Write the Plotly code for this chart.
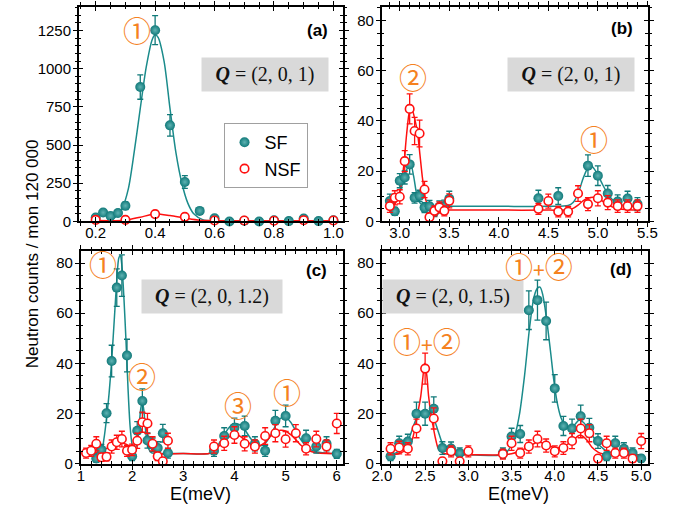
import plotly.graph_objects as go

# ---------------- data ----------------
# panel (a)  Q=(2,0,1)
a_sf_E = [0.2, 0.225, 0.25, 0.275, 0.3, 0.35, 0.4, 0.45, 0.5, 0.55, 0.6, 0.65, 0.7, 0.75, 0.8, 0.85, 0.9, 0.95, 1.0]
a_sf_I = [26, 58, 36, 55, 103, 880, 1252, 629, 258, 69, 21, 0, 4, 0, 8, 2, 19, 2, 8]
a_sf_err = [12, 15, 12, 15, 25, 80, 95, 70, 42, 18, 10, 8, 8, 8, 8, 8, 10, 8, 8]
a_nsf_E = [0.2, 0.3, 0.4, 0.5, 0.6, 0.7, 0.8, 0.9, 1.0]
a_nsf_I = [10, 10, 48, 30, 6, 6, 4, 8, 6]
a_nsf_err = [6, 7, 10, 9, 6, 6, 6, 7, 6]
a_sf_fit_E = [0.2, 0.24, 0.27, 0.29, 0.31, 0.33, 0.35, 0.37, 0.39, 0.40, 0.41, 0.43, 0.45, 0.47, 0.49, 0.51, 0.53, 0.56, 0.60, 0.65, 1.0]
a_sf_fit_I = [0, 5, 33, 90, 215, 460, 740, 1010, 1190, 1222, 1205, 1050, 740, 450, 250, 120, 50, 12, 2, 0, 0]
a_nsf_fit_E = [0.2, 0.3, 0.35, 0.4, 0.45, 0.5, 0.55, 0.6, 1.0]
a_nsf_fit_I = [6, 8, 28, 48, 38, 22, 8, 5, 5]

# panel (b)  Q=(2,0,1)
b_sf_E = [2.9, 2.95, 3.0, 3.05, 3.1, 3.15, 3.2, 3.25, 3.3, 3.35, 3.4, 3.45, 3.5, 4.4, 4.6, 4.9, 5.0, 5.1, 5.2, 5.3, 5.4]
b_sf_I = [8.1, 4.0, 16.2, 17.5, 22.7, 9.4, 10.2, 5.5, 6.0, 3.9, 5.8, 6.1, 9.0, 9.2, 10.1, 22.2, 18.2, 11.1, 7.9, 9.1, 6.9]
b_sf_err = [2.8, 1.6, 2.8, 2.6, 3.9, 2.1, 2.2, 2.0, 2.4, 2.0, 2.4, 2.4, 3.0, 3.2, 3.3, 4.3, 3.9, 3.2, 2.7, 2.9, 2.6]
b_nsf_E = [2.9, 2.95, 3.0, 3.05, 3.1, 3.15, 3.2, 3.25, 3.3, 3.35, 3.4, 3.45, 3.5, 4.4, 4.5, 4.6, 4.7, 4.8, 4.9, 5.0, 5.1, 5.2, 5.3, 5.4]
b_nsf_I = [6.1, 9.4, 9.8, 24.0, 44.8, 36.0, 35.0, 12.7, 1.7, 4.2, 5.6, 4.2, 8.2, 5.0, 8.1, 3.9, 3.9, 11.1, 6.9, 9.2, 7.5, 6.1, 6.1, 6.1]
b_nsf_err = [2.5, 2.8, 2.8, 4.2, 6.0, 5.4, 5.3, 3.2, 1.5, 2.0, 2.2, 2.0, 2.8, 2.2, 2.8, 2.1, 2.1, 3.1, 2.6, 3.0, 2.8, 2.5, 2.5, 2.5]
b_sf_fit_E = [2.88, 2.92, 2.96, 3.0, 3.04, 3.08, 3.11, 3.14, 3.17, 3.2, 3.25, 3.3, 3.5, 4.0, 4.5, 4.7, 4.75, 4.8, 4.85, 4.9, 4.93, 4.97, 5.0, 5.05, 5.1, 5.15, 5.2, 5.3, 5.42]
b_sf_fit_I = [7, 6.5, 8, 11.5, 16.5, 21.5, 22.8, 18, 11, 7.5, 6.2, 6, 6, 6, 6, 6.3, 7.5, 11, 17, 21.5, 22.3, 20.5, 18.5, 14.5, 11, 8.5, 7, 6.2, 6]
b_nsf_fit_E = [2.88, 2.92, 2.96, 3.0, 3.04, 3.07, 3.1, 3.12, 3.15, 3.18, 3.2, 3.23, 3.26, 3.3, 3.35, 3.5, 4.0, 4.5, 4.7, 4.75, 4.8, 4.85, 4.9, 4.95, 5.0, 5.05, 5.1, 5.15, 5.2, 5.3, 5.42]
b_nsf_fit_I = [5.5, 5.8, 7.5, 12, 22, 35, 44, 45, 41, 35, 28, 17, 9, 5, 4.5, 4.5, 4.5, 4.5, 4.6, 5.2, 6.5, 8.2, 9.2, 9.6, 9.2, 8, 6.8, 5.7, 5.1, 4.6, 4.5]

# panel (c)  Q=(2,0,1.2)
c_sf_E = [1.3, 1.4, 1.5, 1.6, 1.7, 1.8, 1.9, 2.0, 2.1, 2.2, 2.3, 2.4, 2.5, 2.6, 2.7, 3.6, 3.8, 4.0, 4.2, 4.4, 4.6, 4.8, 5.0, 5.4, 5.6, 5.8, 6.0]
c_sf_I = [2.0, 5.5, 20.1, 40.9, 70.2, 75.0, 43.1, 2.9, 13.1, 25.0, 9.2, 7.5, 6.2, 12.1, 4.2, 5.1, 11.0, 14.3, 15.0, 7.9, 5.1, 17.1, 19.0, 10.1, 6.8, 7.9, 3.9]
c_sf_err = [1.5, 2.2, 3.8, 6.3, 7.5, 8.3, 6.5, 1.7, 3.6, 4.8, 3.0, 2.7, 2.5, 3.5, 2.0, 2.2, 3.3, 3.8, 3.9, 2.8, 2.2, 4.1, 4.3, 3.2, 2.6, 2.8, 1.8]
c_nsf_E = [1.1, 1.2, 1.3, 1.4, 1.5, 1.6, 1.7, 1.8, 1.9, 2.0, 2.1, 2.2, 2.3, 2.4, 2.5, 2.6, 2.7, 3.6, 3.8, 4.0, 4.2, 4.4, 4.6, 4.8, 5.0, 5.2, 5.4, 5.6, 5.8, 6.0]
c_nsf_I = [4.2, 5.1, 7.9, 2.5, 2.7, 6.8, 8.5, 9.8, 5.1, 5.5, 9.1, 16.5, 16.0, 7.9, 2.9, 0.9, 9.1, 6.8, 8.1, 11.4, 7.9, 6.8, 11.0, 12.1, 9.7, 12.1, 5.9, 9.8, 6.8, 16.0]
c_nsf_err = [2.0, 2.2, 2.8, 1.6, 1.6, 2.6, 2.8, 3.1, 2.2, 2.3, 3.0, 4.0, 4.0, 2.8, 1.7, 1.0, 3.0, 2.6, 2.8, 3.3, 2.8, 2.6, 3.3, 3.4, 3.1, 3.4, 2.4, 3.1, 2.6, 4.0]
c_sf_fit_E = [1.1, 1.3, 1.4, 1.45, 1.5, 1.55, 1.6, 1.65, 1.7, 1.74, 1.77, 1.8, 1.84, 1.88, 1.92, 1.96, 2.0, 2.04, 2.08, 2.13, 2.17, 2.2, 2.23, 2.27, 2.32, 2.38, 2.6, 3.0, 3.5,
              3.6, 3.7, 3.8, 3.9, 4.0, 4.1, 4.2, 4.3, 4.4, 4.5, 4.6, 4.7, 4.8, 4.9, 5.0, 5.1, 5.2, 5.3, 5.4, 5.5, 5.6, 5.8, 6.0]
c_sf_fit_I = [4, 4, 5, 10, 18, 28, 41, 57, 73, 82, 83, 79, 66, 49, 30, 15, 7.5, 5, 7, 14, 22, 25, 21, 12, 6, 4.3, 4, 4, 4,
              5, 8, 11.5, 14.5, 16, 15.5, 13.5, 10.5, 8, 7, 8, 11, 15, 18, 18.5, 16.5, 13, 9.5, 7, 5.5, 4.7, 4.1, 4]
c_nsf_fit_E = [1.1, 1.3, 1.5, 1.6, 1.7, 1.8, 1.9, 2.0, 2.05, 2.1, 2.15, 2.2, 2.25, 2.3, 2.35, 2.4, 2.5, 3.0, 3.5,
               3.6, 3.7, 3.8, 3.9, 4.0, 4.1, 4.2, 4.3, 4.4, 4.5, 4.6, 4.7, 4.8, 4.9, 5.0, 5.1, 5.2, 5.3, 5.4, 5.5, 5.6, 5.8, 6.0]
c_nsf_fit_I = [4, 4.5, 6, 7, 8, 8.3, 7.5, 6.5, 7.5, 10, 14, 16.5, 16, 12, 7.5, 5, 4, 4, 4,
               5, 7, 9, 10.7, 11.5, 11, 9.5, 8, 7, 7.2, 8.5, 10.8, 12.6, 13.3, 13, 11.5, 9.5, 7.3, 5.7, 4.8, 4.3, 4, 4]

# panel (d)  Q=(2,0,1.5)
d_sf_E = [2.1, 2.2, 2.3, 2.4, 2.5, 2.6, 2.7, 2.8, 2.9, 3.4, 3.5, 3.6, 3.7, 3.8, 3.9, 4.0, 4.1, 4.2, 4.3, 4.4, 4.5, 4.6, 4.7, 4.8, 4.9, 5.0]
d_sf_I = [2.9, 8.1, 8.8, 19.9, 19.9, 21.9, 6.2, 6.0, 4.2, 4.2, 10.8, 11.8, 61.2, 65.2, 56.9, 30.0, 15.0, 14.0, 18.9, 14.3, 9.0, 2.9, 8.1, 5.9, 4.2, 2.0]
d_sf_err = [1.7, 2.8, 2.9, 4.6, 4.6, 4.7, 2.5, 2.6, 2.1, 2.1, 3.3, 3.4, 7.7, 8.0, 7.5, 5.5, 3.8, 3.7, 4.4, 3.7, 2.9, 1.7, 2.8, 2.4, 2.1, 1.4]
d_nsf_E = [2.1, 2.2, 2.3, 2.4, 2.5, 2.6, 2.7, 2.8, 2.9, 3.0, 3.4, 3.5, 3.6, 3.7, 3.8, 3.9, 4.0, 4.1, 4.2, 4.3, 4.4, 4.5, 4.6, 4.7, 4.8, 4.9, 5.0]
d_nsf_I = [5.9, 6.4, 5.9, 14.0, 37.9, 18.0, 0.9, 4.9, 0.9, 4.9, 3.8, 8.1, 4.2, 6.8, 9.8, 7.2, 4.9, 6.2, 9.0, 14.0, 12.1, 2.0, 8.1, 4.2, 4.2, 2.0, 9.0]
d_nsf_err = [2.4, 2.5, 2.4, 3.7, 6.2, 4.2, 1.0, 2.2, 1.0, 2.2, 2.0, 2.8, 2.0, 2.6, 3.1, 2.6, 2.2, 2.5, 3.0, 3.7, 3.4, 1.4, 2.8, 2.0, 2.0, 1.4, 3.0]
d_sf_fit_E = [2.1, 2.2, 2.3, 2.35, 2.4, 2.45, 2.5, 2.55, 2.6, 2.65, 2.7, 2.75, 2.8, 2.9, 3.0, 3.4, 3.45, 3.5, 3.54, 3.59, 3.65, 3.71, 3.76, 3.8, 3.83,
              3.86, 3.9, 3.95, 3.99, 4.03, 4.07, 4.13, 4.18, 4.23, 4.28, 4.33, 4.4, 4.45, 4.51, 4.56, 4.6, 4.73, 4.85, 5.0]
d_sf_fit_I = [3.5, 5, 9, 13.5, 18, 20.5, 21, 20.5, 18, 13, 8, 5.2, 4, 3.6, 3.5, 3.5, 4.8, 7.5, 11.4, 19.3, 35, 54.7, 66.5, 70, 70.4,
              67.5, 59, 45, 33, 24, 18.5, 14.7, 14.5, 15.5, 17.3, 16.5, 13.4, 10.5, 7.5, 6, 5, 4, 3.6, 3.5]
d_nsf_fit_E = [2.1, 2.2, 2.3, 2.35, 2.39, 2.42, 2.45, 2.47, 2.495, 2.52, 2.54, 2.57, 2.59, 2.62, 2.65, 2.7, 2.75, 2.9, 3.0, 3.4,
               3.5, 3.6, 3.7, 3.8, 3.88, 3.95, 4.05, 4.15, 4.22, 4.28, 4.32, 4.38, 4.43, 4.5, 4.55, 4.7, 5.0]
d_nsf_fit_I = [3.5, 4, 6.2, 9.5, 15.3, 21, 27, 33, 40, 35, 27, 19, 15.3, 10, 6.2, 4.3, 3.8, 3.5, 3.5, 3.5,
               3.9, 5, 6.8, 8.5, 8, 6.8, 6.3, 7.8, 9.5, 11.2, 11, 9, 6.5, 4.6, 3.9, 3.5, 3.5]

# annotation labels
q_labels = ["(2, 0, 1)", "(2, 0, 1)", "(2, 0, 1.2)", "(2, 0, 1.5)"]
panel_labels = ["(a)", "(b)", "(c)", "(d)"]
y_title = "Neutron counts / mon 120 000"
x_title = "E(meV)"

# ---------------- styling ----------------
W, H = 680, 513
TEAL = "#117a7a"
TEAL_LINE = "#1a8b8b"
RED = "#ff1010"
ORANGE = "#f5821f"
AX_FONT = dict(family="Liberation Sans, Arial, sans-serif", size=15, color="black")


def px(xp):
    return xp / W


def py(yp):
    return 1 - yp / H


panels = [
    dict(sf=(a_sf_E, a_sf_I, a_sf_err), nsf=(a_nsf_E, a_nsf_I, a_nsf_err),
         sff=(a_sf_fit_E, a_sf_fit_I), nsff=(a_nsf_fit_E, a_nsf_fit_I)),
    dict(sf=(b_sf_E, b_sf_I, b_sf_err), nsf=(b_nsf_E, b_nsf_I, b_nsf_err),
         sff=(b_sf_fit_E, b_sf_fit_I), nsff=(b_nsf_fit_E, b_nsf_fit_I)),
    dict(sf=(c_sf_E, c_sf_I, c_sf_err), nsf=(c_nsf_E, c_nsf_I, c_nsf_err),
         sff=(c_sf_fit_E, c_sf_fit_I), nsff=(c_nsf_fit_E, c_nsf_fit_I)),
    dict(sf=(d_sf_E, d_sf_I, d_sf_err), nsf=(d_nsf_E, d_nsf_I, d_nsf_err),
         sff=(d_sf_fit_E, d_sf_fit_I), nsff=(d_nsf_fit_E, d_nsf_fit_I)),
]

fig = go.Figure()

for i, p in enumerate(panels):
    xa = "x" if i == 0 else f"x{i+1}"
    ya = "y" if i == 0 else f"y{i+1}"
    fig.add_trace(go.Scatter(x=p["sff"][0], y=p["sff"][1], mode="lines", xaxis=xa, yaxis=ya,
                             line=dict(color=TEAL_LINE, width=1.5, shape="spline", smoothing=0.8),
                             showlegend=False, hoverinfo="skip"))
    fig.add_trace(go.Scatter(x=p["nsff"][0], y=p["nsff"][1], mode="lines", xaxis=xa, yaxis=ya,
                             line=dict(color=RED, width=1.5, shape="spline", smoothing=0.8),
                             showlegend=False, hoverinfo="skip"))
    fig.add_trace(go.Scatter(x=p["sf"][0], y=p["sf"][1], mode="markers", xaxis=xa, yaxis=ya,
                             name="SF", showlegend=(i == 0), legendgroup="sf", cliponaxis=False,
                             marker=dict(color=TEAL, size=10, line=dict(width=0),
                                         gradient=dict(type="radial", color="#5fb3b3")),
                             error_y=dict(type="data", array=p["sf"][2], visible=True,
                                          color=TEAL, thickness=1.3, width=3)))
    fig.add_trace(go.Scatter(x=p["nsf"][0], y=p["nsf"][1], mode="markers", xaxis=xa, yaxis=ya,
                             name="NSF", showlegend=(i == 0), legendgroup="nsf", cliponaxis=False,
                             marker=dict(color="white", size=8.5, line=dict(width=1.6, color=RED)),
                             error_y=dict(type="data", array=p["nsf"][2], visible=True,
                                          color=RED, thickness=1.3, width=3)))

# dummy traces for overlay tick axes
for i in range(4):
    base_x = "x" if i == 0 else f"x{i+1}"
    base_y = "y" if i == 0 else f"y{i+1}"
    fig.add_trace(go.Scatter(x=[None], y=[None], xaxis=f"x{i+5}", yaxis=base_y,
                             showlegend=False, hoverinfo="skip"))
    fig.add_trace(go.Scatter(x=[None], y=[None], xaxis=base_x, yaxis=f"y{i+5}",
                             showlegend=False, hoverinfo="skip"))

# axis geometry (pixels of the frame) and scales
frames = [
    dict(x0=71, x1=343, y0=7, y1=225, xr=[0.1435, 1.032], yr=[-0.5, 1404.6],
         xd=0.2, xm=0.05, xf=".1f", yd=250, ym=50),
    dict(x0=383, x1=657, y0=7, y1=225, xr=[2.818, 5.503], yr=[-0.03, 85.4],
         xd=0.5, xm=0.1, xf=".1f", yd=20, ym=5),
    dict(x0=73, x1=343, y0=255, y1=471, xr=[0.998, 6.12], yr=[-0.03, 84.8],
         xd=1, xm=0.2, xf="d", yd=20, ym=5),
    dict(x0=383, x1=657, y0=255, y1=471, xr=[1.998, 5.075], yr=[-0.03, 84.8],
         xd=0.5, xm=0.1, xf=".1f", yd=20, ym=5),
]

layout = {}
for i, f in enumerate(frames):
    xn = "xaxis" if i == 0 else f"xaxis{i+1}"
    yn = "yaxis" if i == 0 else f"yaxis{i+1}"
    xr = "x" if i == 0 else f"x{i+1}"
    yr = "y" if i == 0 else f"y{i+1}"
    common = dict(showline=True, linecolor="black", linewidth=1.8, mirror="ticks",
                  ticks="outside", ticklen=4, tickwidth=1.4, tickcolor="black",
                  showgrid=False, zeroline=False, tickfont=AX_FONT)
    layout[xn] = dict(common, domain=[px(f["x0"]), px(f["x1"])], range=f["xr"], anchor=yr,
                      tick0=0, dtick=f["xd"], tickformat=f["xf"], ticklabelstandoff=-7,
                      minor=dict(dtick=f["xm"], ticks="outside", ticklen=2.5, tickwidth=1.2,
                                 tickcolor="black", showgrid=False))
    layout[yn] = dict(common, domain=[py(f["y1"]), py(f["y0"])], range=f["yr"], anchor=xr,
                      tick0=0, dtick=f["yd"], ticklabelstandoff=-1,
                      minor=dict(dtick=f["ym"], ticks="outside", ticklen=2.5, tickwidth=1.2,
                                 tickcolor="black", showgrid=False))
    inside = dict(showline=False, mirror="ticks", ticks="inside", ticklen=4, tickwidth=1.4,
                  tickcolor="black", showgrid=False, zeroline=False, showticklabels=False)
    layout[f"xaxis{i+5}"] = dict(inside, overlaying=xr, anchor=yr, range=f["xr"], tick0=0, dtick=f["xd"],
                                 minor=dict(dtick=f["xm"], ticks="inside", ticklen=2.5, tickwidth=1.2,
                                            tickcolor="black", showgrid=False))
    layout[f"yaxis{i+5}"] = dict(inside, overlaying=yr, anchor=xr, range=f["yr"], tick0=0, dtick=f["yd"],
                                 minor=dict(dtick=f["ym"], ticks="inside", ticklen=2.5, tickwidth=1.2,
                                            tickcolor="black", showgrid=False))

annotations = []
# Q boxes (centre pixel positions)
q_pos = [(263, 76), (578.5, 76), (208, 301), (456, 301)]
for lab, (cx, cy) in zip(q_labels, q_pos):
    annotations.append(dict(xref="paper", yref="paper", x=px(cx), y=py(cy), showarrow=False,
                            text=f"<b><i>Q</i></b> = {lab}", bgcolor="#d9d9d9",
                            width=126 if len(lab) < 10 else 140, height=33, borderpad=0,
                            font=dict(family="Liberation Serif, DejaVu Serif, serif", size=20, color="#111"),
                            xanchor="center", yanchor="middle"))
# panel letters
l_pos = [(317, 30.5), (631, 29), (316, 275), (630, 274)]
for lab, (cx, cy) in zip(panel_labels, l_pos):
    annotations.append(dict(xref="paper", yref="paper", x=px(cx), y=py(cy), showarrow=False,
                            text=f"<b>{lab}</b>", xanchor="center", yanchor="middle",
                            font=dict(family="Liberation Sans, Arial, sans-serif", size=17, color="black")))
# circled peak labels (data coordinates)
circ = [
    ("x", "y", 0.338, 1252, "①"),
    ("x2", "y2", 3.13, 57.3, "②"),
    ("x2", "y2", 4.96, 32.7, "①"),
    ("x3", "y3", 1.43, 79.5, "①"),
    ("x3", "y3", 2.185, 35, "②"),
    ("x3", "y3", 4.07, 23.5, "③"),
    ("x3", "y3", 5.02, 28.7, "①"),
    ("x4", "y4", 3.82, 78.7, "①<span style='font-size:21px'>+</span>②"),
    ("x4", "y4", 2.525, 49, "①<span style='font-size:21px'>+</span>②"),
]
for xr, yr, xv, yv, t in circ:
    annotations.append(dict(xref=xr, yref=yr, x=xv, y=yv, text=t, showarrow=False,
                            xanchor="center", yanchor="middle",
                            font=dict(family="Noto Sans CJK JP, DejaVu Sans, sans-serif", size=28, color=ORANGE)))
# axis titles
annotations.append(dict(xref="paper", yref="paper", x=px(24), y=py(258), text=y_title, textangle=-90,
                        showarrow=False, xanchor="center", yanchor="middle",
                        font=dict(family="Liberation Sans, Arial, sans-serif", size=17, color="black")))
for cx in (196, 524):
    annotations.append(dict(xref="paper", yref="paper", x=px(cx), y=py(502), text=x_title,
                            showarrow=False, xanchor="center", yanchor="middle", borderpad=0,
                            font=dict(family="Liberation Sans, Arial, sans-serif", size=18, color="black")))

fig.update_layout(
    width=W, height=H, margin=dict(l=0, r=0, t=0, b=0),
    paper_bgcolor="white", plot_bgcolor="white",
    annotations=annotations,
    showlegend=True,
    legend=dict(x=px(220), y=py(125), xanchor="left", yanchor="top",
                bgcolor="white", bordercolor="#a0a0a0", borderwidth=1,
                font=dict(family="Liberation Sans, Arial, sans-serif", size=18, color="black"),
                tracegroupgap=0, itemwidth=30),
    **layout,
)

fig.write_html("out.html", config={"displayModeBar": False},
               post_script="document.body.style.margin='0';document.body.style.padding='0';")
